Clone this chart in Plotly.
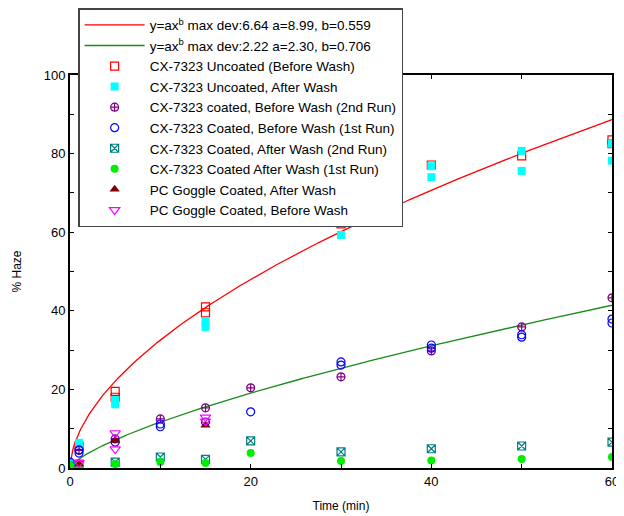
import numpy as np
import plotly.graph_objects as go

# ---- data ----
uncoated_before_x = [1, 5, 5, 15, 15, 30, 30, 40, 50, 60, 60]
uncoated_before_y = [5.6, 19.5, 18.0, 41.0, 39.5, 65.9, 62.1, 77.1, 79.4, 83.5, 82.5]

uncoated_after_x = [0, 1, 5, 5, 15, 15, 30, 40, 40, 50, 50, 60, 60]
uncoated_after_y = [1.0, 6.4, 17.3, 16.2, 37.4, 35.9, 59.3, 76.8, 74.0, 80.7, 75.6, 82.6, 78.2]

coated_before_2_x = [1, 5, 10, 15, 20, 30, 40, 50, 60]
coated_before_2_y = [4.5, 7.4, 12.5, 15.3, 20.4, 23.2, 29.8, 35.9, 43.3]

coated_before_1_x = [0, 1, 1, 5, 10, 10, 15, 20, 30, 30, 40, 40, 50, 50, 60, 60]
coated_before_1_y = [1.5, 3.8, 4.6, 6.6, 10.5, 11.2, 11.7, 14.3, 27.0, 26.2, 31.3, 30.5, 33.3, 33.9, 37.9, 36.9]

coated_after_2_x = [0, 1, 5, 10, 15, 20, 30, 40, 50, 60]
coated_after_2_y = [0.5, 1.0, 1.5, 2.8, 2.2, 6.9, 4.1, 4.9, 5.6, 6.6]

coated_after_1_x = [0, 1, 5, 10, 15, 20, 30, 40, 50, 60]
coated_after_1_y = [0.5, 0.6, 1.0, 1.5, 1.3, 3.8, 1.8, 1.9, 2.3, 2.8]

pc_after_x = [1, 5, 15]
pc_after_y = [1.0, 7.0, 10.9]

pc_before_x = [1, 5, 5, 15, 15]
pc_before_y = [1.3, 8.9, 4.8, 12.9, 11.9]

# power-law fits y = a * x^b (parameters as printed in the legend)
fit_red_a, fit_red_b = 8.99, 0.559
fit_green_a, fit_green_b = 2.30, 0.706
fit_x = np.linspace(0.02, 60, 400)

x_ticks = [0, 10, 20, 30, 40, 50, 60]
x_ticktext = ["0", "", "20", "", "40", "", "60"]
y_ticks = [0, 10, 20, 30, 40, 50, 60, 70, 80, 90, 100]
y_ticktext = ["0", "", "20", "", "40", "", "60", "", "80", "", "100"]

fig = go.Figure()

fig.add_trace(go.Scatter(
    x=fit_x, y=fit_red_a * fit_x ** fit_red_b, mode="lines",
    line=dict(color="red", width=1.3),
    name="y=ax<sup>b</sup> max dev:6.64 a=8.99, b=0.559"))
fig.add_trace(go.Scatter(
    x=fit_x, y=fit_green_a * fit_x ** fit_green_b, mode="lines",
    line=dict(color="#1a8a1a", width=1.3),
    name="y=ax<sup>b</sup> max dev:2.22 a=2.30, b=0.706"))

def add_markers(x, y, name, symbol, color, size=8, lw=1.2):
    fig.add_trace(go.Scatter(
        x=x, y=y, mode="markers", name=name,
        marker=dict(symbol=symbol, color=color, size=size,
                    line=dict(color=color, width=lw))))

add_markers(uncoated_before_x, uncoated_before_y, "CX-7323 Uncoated (Before Wash)", "square-open", "red", 8)
add_markers(uncoated_after_x, uncoated_after_y, "CX-7323 Uncoated, After Wash", "square", "cyan", 8, 0)
add_markers(coated_before_2_x, coated_before_2_y, "CX-7323 coated, Before Wash (2nd Run)", "circle-cross-open", "purple", 8)
add_markers(coated_before_1_x, coated_before_1_y, "CX-7323 Coated, Before Wash (1st Run)", "circle-open", "blue", 8)
add_markers(coated_after_2_x, coated_after_2_y, "CX-7323 Coated, After Wash (2nd Run)", "square-x-open", "teal", 8)
add_markers(coated_after_1_x, coated_after_1_y, "CX-7323 Coated After Wash (1st Run)", "circle", "#00ee00", 8, 0)
add_markers(pc_after_x, pc_after_y, "PC Goggle Coated, After Wash", "triangle-up", "#800000", 9, 0)
add_markers(pc_before_x, pc_before_y, "PC Goggle Coated, Before Wash", "triangle-down-open", "magenta", 9)

axis_common = dict(
    showline=True, linecolor="black", linewidth=2, mirror="ticks",
    ticks="inside", ticklen=4, tickcolor="black", showgrid=False, zeroline=False,
    tickfont=dict(size=13, color="black"),
)

fig.update_layout(
    width=616, height=508,
    margin=dict(l=62, r=12, t=67, b=48, autoexpand=False),
    paper_bgcolor="white", plot_bgcolor="white",
    font=dict(family="Liberation Sans, Arial, sans-serif", color="black", size=13),
    xaxis=dict(range=[0, 60], tickvals=x_ticks, ticktext=x_ticktext,
               title=dict(text="Time (min)", font=dict(size=12), standoff=14), **axis_common),
    yaxis=dict(range=[0, 100], tickvals=y_ticks, ticktext=y_ticktext,
               title=dict(text="% Haze", font=dict(size=12), standoff=19), **axis_common),
    legend=dict(x=0.015, y=1.17, xanchor="left", yanchor="top",
                bgcolor="white", bordercolor="#444", borderwidth=1.5,
                font=dict(size=13.5), itemwidth=60, tracegroupgap=0),
    showlegend=True,
)

fig.write_html("out.html")
